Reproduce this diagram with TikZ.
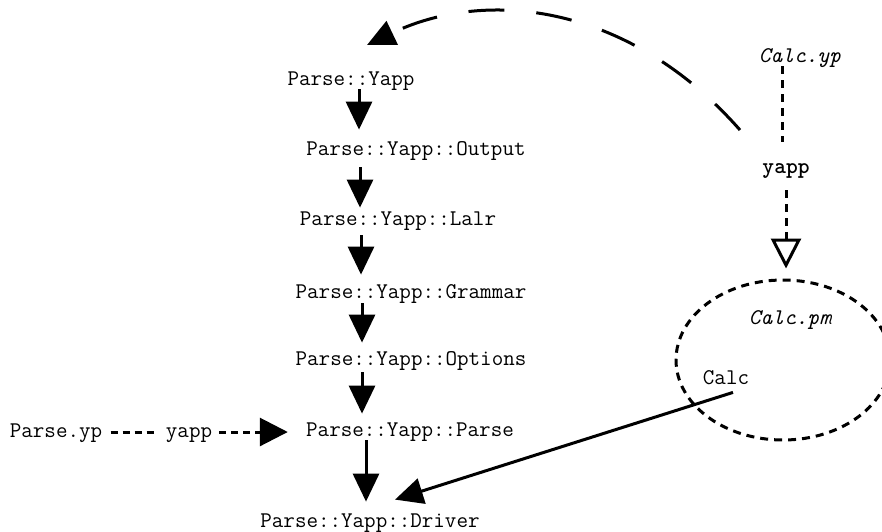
\documentclass[tikz,border=0pt]{standalone}
\usepackage{fontspec}
\usetikzlibrary{arrows.meta,shapes.geometric}
\tikzset{
  lbl/.style={font=\ttfamily\fontsize{11.2pt}{13pt}\selectfont, inner sep=0pt, anchor=base, text height=7pt, text depth=2pt},
  arr/.style={line width=1.5pt, -{Triangle[length=14pt,width=13pt]}},
  openarr/.style={line width=1.5pt, -{Triangle[open,length=15pt,width=15pt]}},
  shortdash/.style={line width=1.5pt, dash pattern=on 4pt off 3pt},
  leftdash/.style={line width=1.5pt, dash pattern=on 3.5pt off 2.5pt},
  longdash/.style={line width=1.5pt, dash pattern=on 18pt off 16pt},
}
\begin{document}
\begin{tikzpicture}[x=0.5pt,y=-0.5pt]
\useasboundingbox (0,0) rectangle (882,531);
% chain nodes (positioned at baseline)
\node[lbl] (py)    at (351,85)  {Parse::Yapp};
\node[lbl] (out)   at (416,155) {Parse::Yapp::Output};
\node[lbl] (lalr)  at (398,225) {Parse::Yapp::Lalr};
\node[lbl] (gram)  at (411,298) {Parse::Yapp::Grammar};
\node[lbl] (opt)   at (411,365) {Parse::Yapp::Options};
\node[lbl] (parse) at (410,436) {Parse::Yapp::Parse};
\node[lbl] (drv)   at (370,527) {Parse::Yapp::Driver};
% left
\node[lbl] (parseyp) at (56,437) {Parse.yp};
\node[lbl] (yappl)   at (189,437) {yapp};
% right
\node[lbl] (calcyp) at (800,62)  {\itshape Calc.yp};
\node[lbl] (yappr)  at (786,173) {\bfseries yapp};
\node[draw, ellipse, shortdash, minimum width=107pt, minimum height=80pt, inner sep=0pt] (pm) at (783,360) {};
\node[lbl] (calcpm) at (790,324) {\itshape Calc.pm};
\node[lbl] (calc)   at (726,384) {Calc};
% arrow x positions
\coordinate (ax1) at (359,0);
\coordinate (ax2) at (360,0);
\coordinate (ax3) at (361,0);
\coordinate (ax4) at (362,0);
\coordinate (ax5) at (362,0);
\coordinate (ax6) at (366,0);
\coordinate (cx) at (782,0);
% chain arrows
\draw[arr, shorten <=0pt,   shorten >=5.5pt] (py.south -| ax1)    -- (out.north -| ax1);
\draw[arr, shorten <=4pt,   shorten >=1.5pt] (out.south -| ax2)   -- (lalr.north -| ax2);
\draw[arr, shorten <=3pt,   shorten >=4.5pt] (lalr.south -| ax3)  -- (gram.north -| ax3);
\draw[arr, shorten <=0.5pt, shorten >=4pt]   (gram.south -| ax4)  -- (opt.north -| ax4);
\draw[arr, shorten <=1.5pt, shorten >=4pt]   (opt.south -| ax5)   -- (parse.north -| ax5);
\draw[arr, shorten <=0pt,   shorten >=5.5pt] (parse.south -| ax6) -- (drv.north -| ax6);
% left chain
\draw[leftdash, shorten <=4pt, shorten >=4pt] (parseyp.east) -- (yappl.west);
\draw[leftdash, -{Triangle[length=14pt,width=14pt]}, shorten <=3.5pt, shorten >=9pt] (yappl.east) -- (parse.west |- yappl.east);
% right chain
\draw[shortdash] (calcyp.south -| cx) -- ([yshift=8.5pt]yappr.north -| cx);
\draw[shortdash, openarr, shorten <=6.5pt, shorten >=5pt] (yappr.south) -- (yappr.south |- pm.north);
% Calc -> Driver
\draw[arr] ([xshift=3.5pt,yshift=-2pt]calc.south) -- ([xshift=12.5pt,yshift=6.5pt]drv.north);
% big dashed arc
\coordinate (arcstart) at (740,130);
\coordinate (arcend) at (367,45);
\draw[longdash, -{Triangle[length=14pt,width=13pt]}] (arcstart) .. controls (630,5) and (488,-13) .. (arcend);
\end{tikzpicture}
\end{document}
